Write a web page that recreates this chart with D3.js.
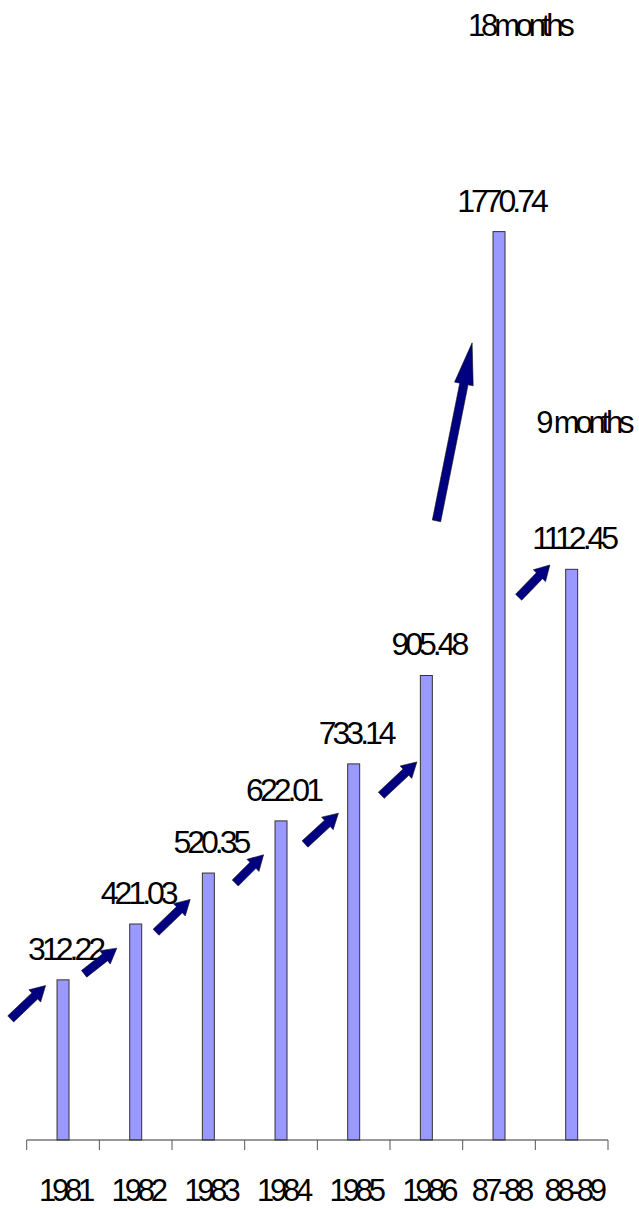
<!DOCTYPE html>
<html>
<head>
<meta charset="utf-8">
<script src="https://cdn.jsdelivr.net/npm/d3@7"></script>
<style>
  body { margin: 0; background: #fff; }
  text { font-family: "Liberation Sans", Arial, sans-serif; }
</style>
</head>
<body>
<div id="chart"></div>
<script>
const categories = ["1981", "1982", "1983", "1984", "1985", "1986", "87-88", "88-89"];
const values = [312.22, 421.03, 520.35, 622.01, 733.14, 905.48, 1770.74, 1112.45];

// arrows: position in category units (0 = left edge of axis) and value units
const arrowFromPos = [-0.22, 0.79, 1.78, 2.87, 3.83, 4.88, 5.64, 6.77];
const arrowToPos   = [0.26, 1.24, 2.25, 3.26, 4.29, 5.37, 6.13, 7.2];
const arrowFromVal = [236, 324, 405, 501, 577, 672, 1207, 1058];
const arrowToVal   = [301, 374, 469, 556, 637, 737, 1554, 1121];
const arrowBig     = [false, false, false, false, false, false, true, false];

const notes = ["18months", "9 months"];
const notePos = [6.78, 7.66];
const noteVal = [2152, 1378];

const width = 639, height = 1209;

const svg = d3.select("#chart")
  .append("svg")
    .attr("width", width)
    .attr("height", height);

const x = d3.scaleBand()
  .domain(categories)
  .range([26.7, 608]);

const xu = d3.scaleLinear()
  .domain([0, categories.length])
  .range(x.range());

const y = d3.scaleLinear()
  .domain([0, 2000])
  .range([1140, 114]);

const barW = x.bandwidth() * 0.165;

// bars
svg.selectAll(".bar")
  .data(values)
  .enter()
  .append("rect")
    .attr("class", "bar")
    .attr("x", (d, i) => x(categories[i]) + x.bandwidth() / 2 - barW / 2)
    .attr("y", d => y(d))
    .attr("width", barW)
    .attr("height", d => y(0) - y(d))
    .attr("fill", "#9999ff")
    .attr("stroke", "#333")
    .attr("stroke-width", 1);

// value labels
svg.selectAll(".val")
  .data(values)
  .enter()
  .append("text")
    .attr("class", "val")
    .attr("x", (d, i) => x(categories[i]) + x.bandwidth() / 2 + 2)
    .attr("y", d => y(d) - 20)
    .attr("text-anchor", "middle")
    .attr("font-size", 32)
    .attr("letter-spacing", -4)
    .text(d => d.toFixed(2));

// x axis: line + ticks between categories
const axis = svg.append("g");
axis.append("line")
  .attr("x1", x.range()[0]).attr("x2", x.range()[1])
  .attr("y1", y(0)).attr("y2", y(0))
  .attr("stroke", "#333");
axis.selectAll(".tick")
  .data(d3.range(categories.length + 1))
  .enter()
  .append("line")
    .attr("x1", d => xu(d)).attr("x2", d => xu(d))
    .attr("y1", y(0)).attr("y2", y(0) + 10)
    .attr("stroke", "#555");
axis.selectAll(".lab")
  .data(categories)
  .enter()
  .append("text")
    .attr("x", d => x(d) + x.bandwidth() / 2 + 2)
    .attr("y", y(0) + 61)
    .attr("text-anchor", "middle")
    .attr("font-size", 31)
    .attr("letter-spacing", -4.2)
    .text(d => d);

// block arrows
function arrowPath(x1, y1, x2, y2, shaft, headW, headL) {
  const dx = x2 - x1, dy = y2 - y1;
  const len = Math.sqrt(dx * dx + dy * dy);
  const ux = dx / len, uy = dy / len;
  const nx = -uy, ny = ux;
  const bx = x2 - ux * headL, by = y2 - uy * headL;
  const pts = [
    [x1 + nx * shaft / 2, y1 + ny * shaft / 2],
    [bx + nx * shaft / 2, by + ny * shaft / 2],
    [bx + nx * headW / 2, by + ny * headW / 2],
    [x2, y2],
    [bx - nx * headW / 2, by - ny * headW / 2],
    [bx - nx * shaft / 2, by - ny * shaft / 2],
    [x1 - nx * shaft / 2, y1 - ny * shaft / 2]
  ];
  return "M" + pts.map(p => p.join(",")).join("L") + "Z";
}

svg.selectAll(".arrow")
  .data(arrowFromPos)
  .enter()
  .append("path")
    .attr("class", "arrow")
    .attr("d", (d, i) => arrowPath(
      xu(arrowFromPos[i]), y(arrowFromVal[i]),
      xu(arrowToPos[i]), y(arrowToVal[i]),
      8.5, arrowBig[i] ? 19 : 17, arrowBig[i] ? 42 : 15))
    .attr("fill", "#000080")
    .attr("stroke", "#111")
    .attr("stroke-width", 0.6)
    .attr("stroke-linejoin", "miter");

// notes
svg.selectAll(".note")
  .data(notes)
  .enter()
  .append("text")
    .attr("class", "note")
    .attr("x", (d, i) => xu(notePos[i]))
    .attr("y", (d, i) => y(noteVal[i]))
    .attr("text-anchor", "middle")
    .attr("font-size", 31)
    .attr("letter-spacing", -4.2)
    .text(d => d);
</script>
</body>
</html>
